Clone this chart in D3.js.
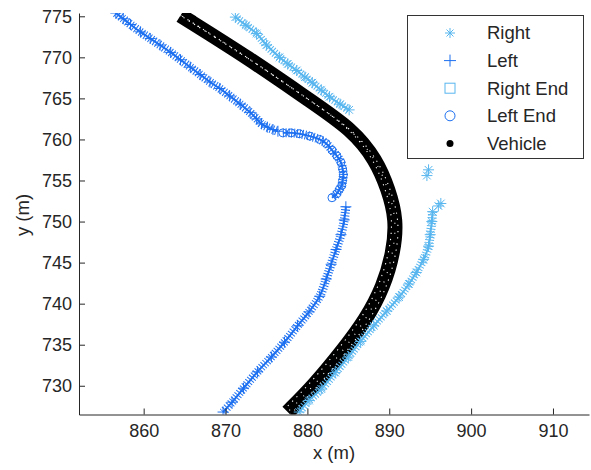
<!DOCTYPE html>
<html>
<head>
<meta charset="utf-8">
<script src="https://cdn.jsdelivr.net/npm/d3@7"></script>
<style>
  body { margin: 0; background: #fff; }
  text { font-family: Arial, "Liberation Sans", sans-serif; fill: #262626; }
</style>
</head>
<body>
<svg id="chart" width="591" height="470"></svg>
<script>
// data (metres)
var xTicks = [860, 870, 880, 890, 900, 910],
    yTicks = [730, 735, 740, 745, 750, 755, 760, 765, 770, 775];

var leftUpper = [[856.6,775.4],[857.5,774.7],[858.4,774.0],[859.6,773.1],[860.8,772.3],[862.0,771.5],[863.3,770.6],
  [864.5,769.7],[865.7,768.8],[866.9,767.9],[868.1,767.0],[869.3,766.2],[870.5,765.3],[871.8,764.3],[873.0,763.3],
  [873.8,762.5],[874.4,761.9],[875.1,761.5],[875.8,761.2],[876.4,761.0]];
var leftEnd = [[877.0,760.8],[878.0,760.8],[879.0,760.7],[880.3,760.4],[881.5,760.0],[882.3,759.5],[883.0,758.7],
  [883.6,758.0],[884.1,757.2],[884.3,756.4],[884.4,755.7],[884.3,755.0],[884.2,754.4],[883.9,753.9],[883.6,753.4],[883.0,752.9]];
var leftLower = [[884.7,751.8],[884.5,750.2],[884.1,748.4],[883.5,746.6],[882.9,744.8],[882.3,743.0],[881.5,740.9],
  [880.2,739.0],[878.8,737.3],[877.2,735.3],[875.6,733.5],[873.9,731.7],[872.2,729.7],[870.8,728.0],[869.7,726.8]];
var rightUpper = [[871.2,774.9],[872.5,773.9],[873.8,772.9],[875.0,771.5],[876.6,770.0],[877.6,769.2],[878.7,768.4],
  [879.7,767.6],[880.6,766.9],[881.7,766.0],[882.7,765.2],[884.0,764.3],[885.1,763.6]];
var rightSpots = [[894.8,756.3],[894.6,755.6],[896.3,752.2],[896.0,751.9]];
var rightLower = [[895.3,751.2],[895.2,750.0],[895.0,748.4],[894.8,747.0],[894.2,745.4],[893.3,743.8],[892.4,742.4],
  [891.2,740.8],[889.7,739.1],[888.1,737.3],[886.5,735.4],[885.0,733.5],[883.4,731.6],[881.7,729.6],[880.2,728.2],[879.0,726.8]];
var vehicle = [[864.5,775.1],[873.0,769.8],[880.2,764.8],[885.5,761.2],[888.4,757.5],[889.9,753.9],[890.9,750.2],
  [890.5,746.2],[889.3,742.1],[887.2,738.1],[884.2,734.1],[880.8,730.0],[877.6,726.8]];

var legendNames = ["Right", "Left", "Right End", "Left End", "Vehicle"];

var rightColor = "#58b6ef", leftColor = "#1c6ff0";

var svg = d3.select("#chart"),
    plot = {left: 79, right: 589, top: 13, bottom: 414.5};

var x = d3.scaleLinear().domain([852.1, 914.4]).range([plot.left, plot.right]),
    y = d3.scaleLinear().domain([726.5, 775.4]).range([plot.bottom, plot.top]);

svg.append("defs").append("clipPath").attr("id", "clip")
  .append("rect")
    .attr("x", plot.left).attr("y", plot.top)
    .attr("width", plot.right - plot.left).attr("height", plot.bottom - plot.top);

var g = svg.append("g").attr("clip-path", "url(#clip)");

var line = d3.line()
    .x(function(d) { return x(d[0]); })
    .y(function(d) { return y(d[1]); })
    .curve(d3.curveCatmullRom);

var smooth = d3.line()
    .x(function(d) { return x(d[0]); })
    .y(function(d) { return y(d[1]); })
    .curve(d3.curveBasis);

// vehicle band
g.append("path").datum(vehicle)
    .attr("d", smooth).attr("fill", "none")
    .attr("stroke", "#000").attr("stroke-width", 15).attr("stroke-linecap", "butt");
[[-3.5, -2.5], [3, 2], [0, 0]].forEach(function(o, i) {
  g.append("path").datum(vehicle)
      .attr("d", smooth).attr("fill", "none")
      .attr("transform", "translate(" + o[0] + "," + o[1] + ")")
      .attr("stroke", "#fff").attr("stroke-width", 1.1)
      .attr("stroke-dasharray", i === 2 ? "1,9" : "1.2,5");
});

// textured track under the markers
function track(data, color) {
  g.append("path").datum(data)
      .attr("d", line).attr("fill", "none")
      .attr("stroke", color).attr("stroke-width", 9)
      .attr("stroke-dasharray", "1,1.8");
  g.append("path").datum(data)
      .attr("d", line).attr("fill", "none")
      .attr("stroke", color).attr("stroke-width", 2);
}

function plus(sel, s) {
  sel.append("line").attr("x1", -s).attr("x2", s).attr("y1", 0).attr("y2", 0);
  sel.append("line").attr("x1", 0).attr("x2", 0).attr("y1", -s).attr("y2", s);
}
function star(sel, s) {
  plus(sel, s);
  var k = s * 0.7;
  sel.append("line").attr("x1", -k).attr("x2", k).attr("y1", -k).attr("y2", k);
  sel.append("line").attr("x1", -k).attr("x2", k).attr("y1", k).attr("y2", -k);
}

function markers(data, color, kind) {
  var m = g.selectAll(null).data(data).enter().append("g")
      .attr("transform", function(d) { return "translate(" + x(d[0]) + "," + y(d[1]) + ")"; })
      .attr("stroke", color).attr("stroke-width", 1).attr("fill", "none");
  if (kind === "plus") plus(m, 5.5);
  else if (kind === "star") star(m, 5.5);
  else m.append("circle").attr("r", 4);
}

track(leftUpper, leftColor);
track(leftLower, leftColor);
track(leftEnd, leftColor);
track(rightUpper, rightColor);
track(rightLower, rightColor);

markers(leftUpper, leftColor, "plus");
markers(leftLower, leftColor, "plus");
markers(leftEnd, leftColor, "circle");
markers(rightUpper, rightColor, "star");
markers(rightLower, rightColor, "star");
markers(rightSpots, rightColor, "star");

// axes, ticks pointing inward, no box
var axisColor = "#262626";
var xAxis = svg.append("g")
    .attr("transform", "translate(0," + plot.bottom + ")")
    .call(d3.axisBottom(x).tickValues(xTicks).tickSize(-6).tickPadding(10).tickSizeOuter(0));
var yAxis = svg.append("g")
    .attr("transform", "translate(" + plot.left + ",0)")
    .call(d3.axisLeft(y).tickValues(yTicks).tickSize(-6).tickPadding(7).tickSizeOuter(0));
[xAxis, yAxis].forEach(function(a) {
  a.select(".domain").attr("stroke", axisColor);
  a.selectAll(".tick line").attr("stroke", axisColor);
  a.selectAll(".tick text").attr("fill", axisColor)
      .style("font-family", "Arial, 'Liberation Sans', sans-serif").style("font-size", "18px");
});

svg.append("text")
    .attr("x", 334).attr("y", 459)
    .attr("text-anchor", "middle").style("font-size", "18.5px")
    .text("x (m)");
svg.append("text")
    .attr("transform", "translate(29,215) rotate(-90)")
    .attr("text-anchor", "middle").style("font-size", "18.5px")
    .text("y (m)");

// legend
var legend = svg.append("g");
legend.append("rect")
    .attr("x", 407.5).attr("y", 15.5).attr("width", 176).attr("height", 143)
    .attr("fill", "#fff").attr("stroke", "#333");

var rows = legend.selectAll(null).data(legendNames).enter().append("g")
    .attr("transform", function(d, i) { return "translate(450," + (33 + i * 27.6) + ")"; });

rows.append("text")
    .attr("x", 37).attr("dy", "0.35em")
    .style("font-size", "18.5px")
    .text(function(d) { return d; });

rows.each(function(d, i) {
  var r = d3.select(this).append("g").attr("fill", "none").attr("stroke-width", 1);
  if (i === 0) { r.attr("stroke", rightColor); star(r, 5); }
  else if (i === 1) { r.attr("stroke", leftColor); plus(r, 6); }
  else if (i === 2) r.append("rect").attr("x", -5).attr("y", -5).attr("width", 10).attr("height", 10).attr("stroke", rightColor);
  else if (i === 3) r.append("circle").attr("r", 5).attr("stroke", leftColor);
  else r.append("circle").attr("r", 3.5).attr("fill", "#000").attr("stroke", "none");
});
</script>
</body>
</html>
